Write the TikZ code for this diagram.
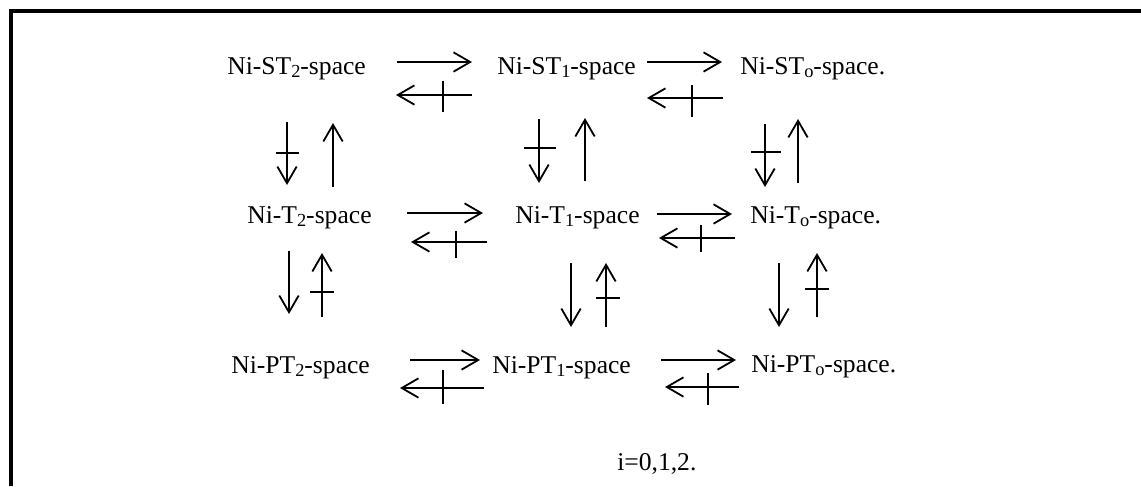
\documentclass[tikz,border=0pt]{standalone}
\usepackage{fontspec}
\setmainfont{Liberation Serif}
\usetikzlibrary{arrows.meta}
% subscript set as in a word processor: smaller and slightly lowered
\newcommand\subsc[1]{\raisebox{-0.13em}{\fontsize{13.8pt}{13.8pt}\selectfont #1}}
\begin{document}
\begin{tikzpicture}[x=0.75pt,y=-0.75pt,
  spacetxt/.style={anchor=base west, inner sep=0pt, font=\fontsize{19.2pt}{23pt}\selectfont},
  arr/.style={line width=1.35pt, -{Straight Barb[length=12.5pt,width=14.5pt]}},
  barline/.style={line width=2.1pt},
  frameline/.style={line width=3pt}]

\useasboundingbox (0,0) rectangle (1141,486);

% box edges
\coordinate (fb) at (10.5,486);
\coordinate (fc) at (10.5,10.5);
\coordinate (fr) at (1141,10.5);
\draw[frameline] (fb) -- (fc) -- (fr);

% the nine spaces
\node[spacetxt] (st2) at (227,74)  {Ni-ST\subsc{2}-space};
\node[spacetxt] (st1) at (497,74)  {Ni-ST\subsc{1}-space};
\node[spacetxt] (st0) at (740,74)  {Ni-ST\subsc{o}-space.};
\node[spacetxt] (t2)  at (247,223) {Ni-T\subsc{2}-space};
\node[spacetxt] (t1)  at (515,223) {Ni-T\subsc{1}-space};
\node[spacetxt] (t0)  at (750,223) {Ni-T\subsc{o}-space.};
\node[spacetxt] (pt2) at (231,373) {Ni-PT\subsc{2}-space};
\node[spacetxt] (pt1) at (492,373) {Ni-PT\subsc{1}-space};
\node[spacetxt] (pt0) at (751,372) {Ni-PT\subsc{o}-space.};
\node[spacetxt] (idx) at (617,470) {i=0,1,2.};

% ---- horizontal implications, row ST
\coordinate (a1s) at (397,62);  \coordinate (a1e) at (472,62);
\coordinate (b1s) at (472,95);  \coordinate (b1e) at (396,95);
\coordinate (c1t) at (443,81);  \coordinate (c1b) at (443,112);
\coordinate (a2s) at (647,62);  \coordinate (a2e) at (722,62);
\coordinate (b2s) at (723,98);  \coordinate (b2e) at (647,98);
\coordinate (c2t) at (692,85);  \coordinate (c2b) at (692,117);
\draw[arr] (a1s) -- (a1e);
\draw[arr] (b1s) -- (b1e);
\draw[barline] (c1t) -- (c1b);
\draw[arr] (a2s) -- (a2e);
\draw[arr] (b2s) -- (b2e);
\draw[barline] (c2t) -- (c2b);

% ---- horizontal implications, row T
\coordinate (a3s) at (407,213); \coordinate (a3e) at (483,213);
\coordinate (b3s) at (487,242); \coordinate (b3e) at (411,242);
\coordinate (c3t) at (456,231); \coordinate (c3b) at (456,258);
\coordinate (a4s) at (657,214); \coordinate (a4e) at (732,214);
\coordinate (b4s) at (735,238); \coordinate (b4e) at (659,238);
\coordinate (c4t) at (701,225); \coordinate (c4b) at (701,252);
\draw[arr] (a3s) -- (a3e);
\draw[arr] (b3s) -- (b3e);
\draw[barline] (c3t) -- (c3b);
\draw[arr] (a4s) -- (a4e);
\draw[arr] (b4s) -- (b4e);
\draw[barline] (c4t) -- (c4b);

% ---- horizontal implications, row PT
\coordinate (a5s) at (410,360); \coordinate (a5e) at (480,360);
\coordinate (b5s) at (484,388); \coordinate (b5e) at (400,388);
\coordinate (c5t) at (443,370); \coordinate (c5b) at (443,404);
\coordinate (a6s) at (661,360); \coordinate (a6e) at (736,360);
\coordinate (b6s) at (739,387); \coordinate (b6e) at (665,387);
\coordinate (c6t) at (708,373); \coordinate (c6b) at (708,405);
\draw[arr] (a5s) -- (a5e);
\draw[arr] (b5s) -- (b5e);
\draw[barline] (c5t) -- (c5b);
\draw[arr] (a6s) -- (a6e);
\draw[arr] (b6s) -- (b6e);
\draw[barline] (c6t) -- (c6b);

% ---- vertical implications between ST and T
\coordinate (d1s) at (287,122); \coordinate (d1e) at (287,185);
\coordinate (e1l) at (276,153); \coordinate (e1r) at (299,153);
\coordinate (u1s) at (333,187); \coordinate (u1e) at (333,123);
\coordinate (d2s) at (539,119); \coordinate (d2e) at (539,183);
\coordinate (e2l) at (524,148); \coordinate (e2r) at (556,148);
\coordinate (u2s) at (585,181); \coordinate (u2e) at (585,118);
\coordinate (d3s) at (765,124); \coordinate (d3e) at (765,187);
\coordinate (e3l) at (751,152); \coordinate (e3r) at (781,152);
\coordinate (u3s) at (798,183); \coordinate (u3e) at (798,119);
\draw[arr] (d1s) -- (d1e);
\draw[barline] (e1l) -- (e1r);
\draw[arr] (u1s) -- (u1e);
\draw[arr] (d2s) -- (d2e);
\draw[barline] (e2l) -- (e2r);
\draw[arr] (u2s) -- (u2e);
\draw[arr] (d3s) -- (d3e);
\draw[barline] (e3l) -- (e3r);
\draw[arr] (u3s) -- (u3e);

% ---- vertical implications between T and PT
\coordinate (d4s) at (289,251); \coordinate (d4e) at (289,314);
\coordinate (u4s) at (322,317); \coordinate (u4e) at (322,253);
\coordinate (e4l) at (310,292); \coordinate (e4r) at (334,292);
\coordinate (d5s) at (571,263); \coordinate (d5e) at (571,327);
\coordinate (u5s) at (606,327); \coordinate (u5e) at (606,263);
\coordinate (e5l) at (596,298); \coordinate (e5r) at (620,298);
\coordinate (d6s) at (779,263); \coordinate (d6e) at (779,327);
\coordinate (u6s) at (817,317); \coordinate (u6e) at (817,253);
\coordinate (e6l) at (805,289); \coordinate (e6r) at (829,289);
\draw[arr] (d4s) -- (d4e);
\draw[arr] (u4s) -- (u4e);
\draw[barline] (e4l) -- (e4r);
\draw[arr] (d5s) -- (d5e);
\draw[arr] (u5s) -- (u5e);
\draw[barline] (e5l) -- (e5r);
\draw[arr] (d6s) -- (d6e);
\draw[arr] (u6s) -- (u6e);
\draw[barline] (e6l) -- (e6r);
\end{tikzpicture}
\end{document}
